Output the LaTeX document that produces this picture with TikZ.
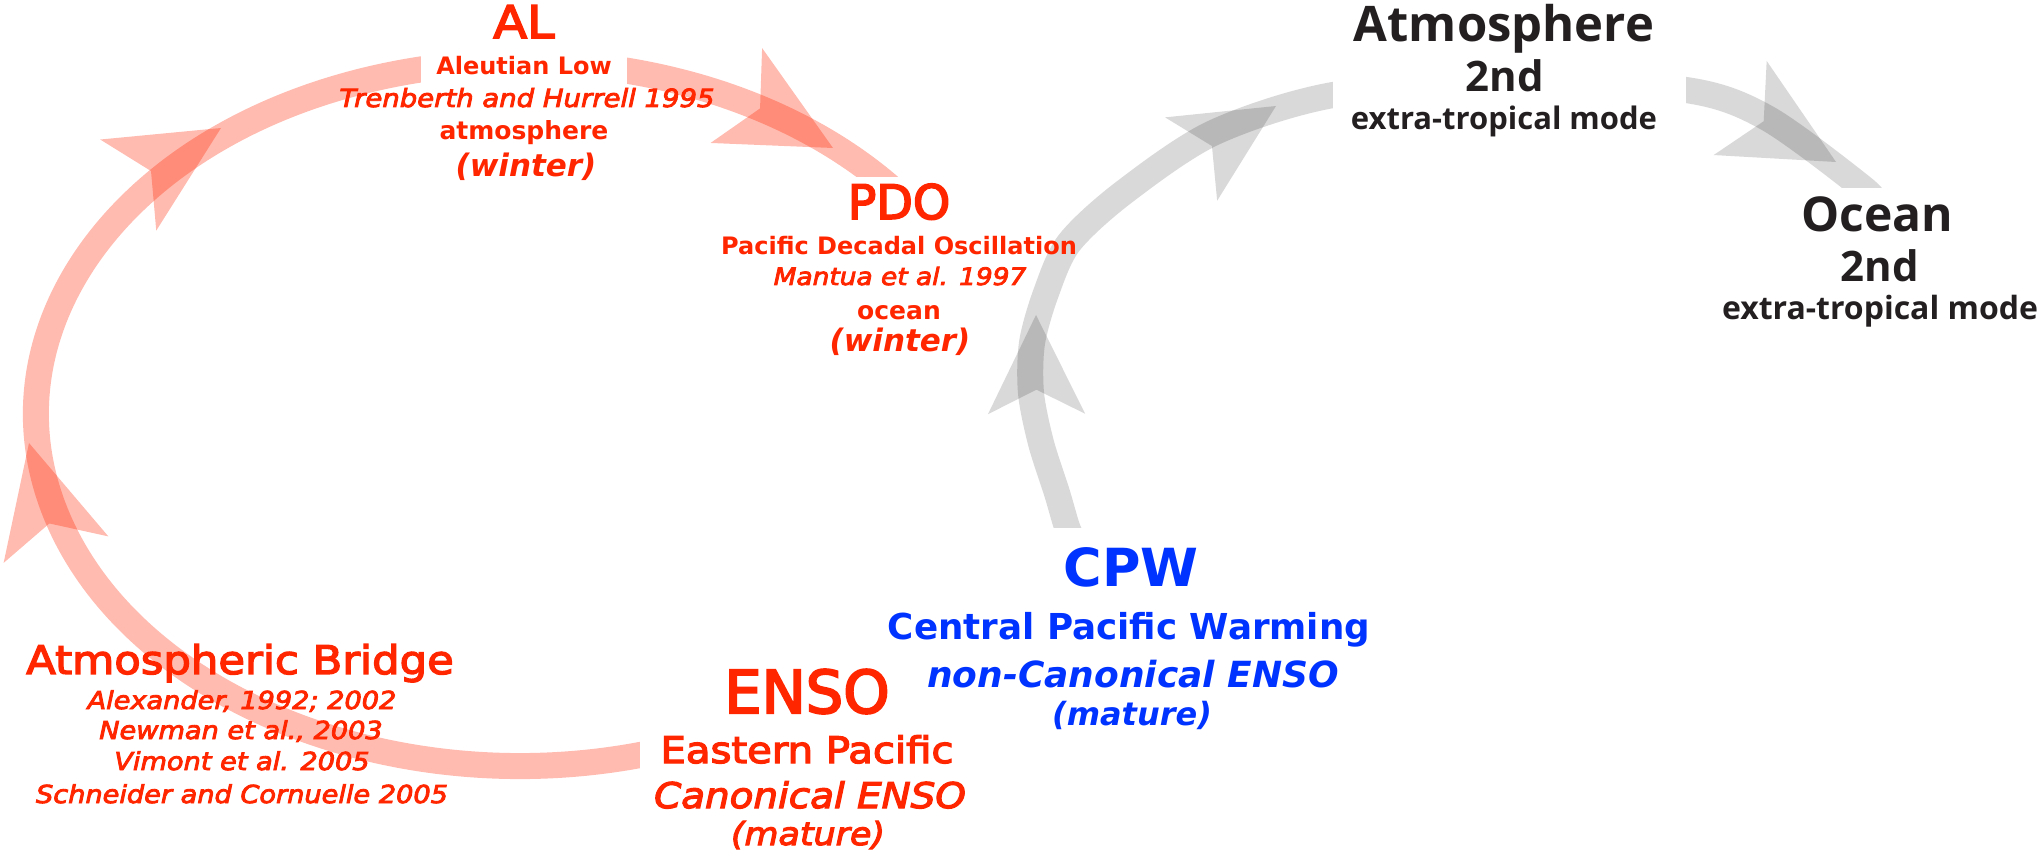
\documentclass[tikz,border=0pt]{standalone}
\usepackage{fontspec}
\setmainfont{DejaVu Sans}
\newfontfamily\medfont{DejaVu Sans}[FakeBold=3.5]
\newfontfamily\medwide{DejaVu Sans}[FakeBold=3.5, FakeStretch=1.1]
\newfontfamily\osans{Open Sans}
\newcommand{\fsz}[1]{\fontsize{#1}{#1}\selectfont}
\definecolor{cred}{RGB}{255,38,0}
\definecolor{cblue}{RGB}{0,51,255}
\definecolor{cblk}{RGB}{35,31,32}
\newcommand{\ahead}[5]{%
  \fill[#5, shift={(#1,#2)}, rotate=#3, scale=#4] (0,0) -- (-110,54) -- (-83,0) -- (-110,-54) -- cycle;}
\tikzset{
  lbl/.style={anchor=base, inner sep=0pt, outer sep=0pt},
  rt/.style={lbl, text=cred},
  bt/.style={lbl, text=cblue},
  kt/.style={lbl, text=cblk},
  redband/.style={draw=cred, draw opacity=0.31, line width=26pt},
  grayband/.style={draw=black, draw opacity=0.15, line width=26pt},
  redhead/.style={fill=cred, fill opacity=0.31},
  grayhead/.style={fill=black, fill opacity=0.15},
  mask/.style={fill=white}
}
\begin{document}
\begin{tikzpicture}[x=1pt,y=1pt]
\useasboundingbox (0,0) rectangle (2040,860);
\fill[white] (0,0) rectangle (2040,860);
% red loop
\coordinate (redStart) at (661.5,109.4);
\draw[redband] (redStart) arc[start angle=-73, end angle=-320, x radius=484, y radius=352];
\ahead{29}{417}{104.2}{1}{redhead}
\ahead{221}{732}{31.6}{0.99}{redhead}
\ahead{833}{712}{-28.5}{1}{redhead}
% gray path
\coordinate (g0) at (1075,315);
\coordinate (g9) at (1876,655);
\draw[grayband] plot[smooth, tension=0.5] coordinates {(g0) (1067,333) (1057,367) (1041,417) (1031,467) (1032,517) (1046,567) (1069,617) (1123,667) (1213,727) (1333,765) (1510,780) (1686,770) (1767,742) (1863,672) (g9)};
\ahead{1036}{545}{90.3}{0.9}{grayhead}
\ahead{1276}{754}{32}{0.91}{grayhead}
\ahead{1836}{698}{-29.4}{1}{grayhead}
% masks (text boxes)
\fill[mask] (640,80) rectangle (700,135);
\fill[mask] (421,770) rectangle (627,825);
\fill[mask] (830,640) rectangle (930,683);
\fill[mask] (1030,290) rectangle (1110,332);
\fill[mask] (1333,740) rectangle (1686,810);
\fill[mask] (1830,640) rectangle (1920,672);
% AL
\node[rt, font=\medwide\fsz{45}] (al) at (524,822) {AL};
\node[rt, font=\fsz{24}\bfseries] (al1) at (524,785) {Aleutian Low};
\node[rt, font=\medwide\fsz{25}\itshape] (al2) at (527,753) {Trenberth and Hurrell 1995};
\node[rt, font=\fsz{25}\bfseries] (al3) at (524,720) {atmosphere};
\node[rt, font=\fsz{31}\bfseries\itshape] (al4) at (526,683) {(winter)};
% PDO
\node[rt, font=\medfont\fsz{47.5}] (pdo) at (899,641) {PDO};
\node[rt, font=\fsz{24}\bfseries] (pdo1) at (899,605) {Pacific Decadal Oscillation};
\node[rt, font=\medwide\fsz{24}\itshape] (pdo2) at (900,575) {Mantua et al. 1997};
\node[rt, font=\fsz{25}\bfseries] (pdo3) at (899,540) {ocean};
\node[rt, font=\fsz{31}\bfseries\itshape] (pdo4) at (900,508) {(winter)};
% ENSO
\node[rt, font=\medfont\fsz{59}] (enso) at (807,147) {ENSO};
\node[rt, font=\medwide\fsz{36.5}] (enso1) at (807,97) {Eastern Pacific};
\node[rt, font=\medwide\fsz{35.3}\itshape] (enso2) at (810,52) {Canonical ENSO};
\node[rt, font=\medwide\fsz{31.7}\itshape] (enso3) at (808,15) {(mature)};
% Atmospheric Bridge
\node[rt, font=\medwide\fsz{39.4}] (ab) at (240,186) {Atmospheric Bridge};
\node[rt, font=\medwide\fsz{24.7}\itshape] (ab1) at (242,151) {Alexander, 1992; 2002};
\node[rt, font=\medwide\fsz{24.7}\itshape] (ab2) at (241,121) {Newman et al., 2003};
\node[rt, font=\medwide\fsz{24.7}\itshape] (ab3) at (242,90) {Vimont et al. 2005};
\node[rt, font=\medwide\fsz{24.7}\itshape] (ab4) at (242,57) {Schneider and Cornuelle 2005};
% CPW
\node[bt, font=\fsz{52.5}\bfseries] (cpw) at (1131,273) {CPW};
\node[bt, font=\fsz{35.7}\bfseries] (cpw1) at (1129,220) {Central Pacific Warming};
\node[bt, font=\fsz{36}\bfseries\itshape] (cpw2) at (1133,173) {non-Canonical ENSO};
\node[bt, font=\fsz{32}\bfseries\itshape] (cpw3) at (1132,135) {(mature)};
% Atmosphere 2nd
\node[kt, font=\osans\fsz{49}\bfseries] (atm) at (1504,818) {Atmosphere};
\node[kt, font=\osans\fsz{42}\bfseries] (atm1) at (1505,768) {2nd};
\node[kt, font=\osans\fsz{31}\bfseries] (atm2) at (1504,730) {extra-tropical mode};
% Ocean 2nd
\node[kt, font=\osans\fsz{48}\bfseries] (oc) at (1877,628) {Ocean};
\node[kt, font=\osans\fsz{42}\bfseries] (oc1) at (1880,578) {2nd};
\node[kt, font=\osans\fsz{32}\bfseries] (oc2) at (1880,540) {extra-tropical mode};
\end{tikzpicture}
\end{document}
